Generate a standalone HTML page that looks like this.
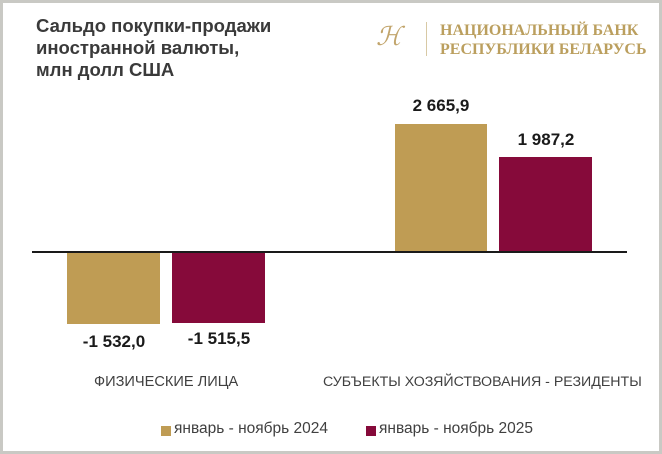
<!DOCTYPE html>
<html><head><meta charset="utf-8"><style>
body{margin:0;background:#fff;}
#c{position:relative;width:662px;height:454px;overflow:hidden;font-family:"Liberation Sans","DejaVu Sans",sans-serif;background:#fff;}
.frame{position:absolute;left:0;top:0;width:656px;height:448px;border:3px solid #c9c9c4;box-sizing:content-box;}
.t{position:absolute;white-space:nowrap;}
.b{position:absolute;}
.v{position:absolute;font-weight:bold;font-size:17px;color:#1a1a1a;text-align:center;width:120px;}
</style></head><body><div id="c">
<div class="frame"></div>
<div class="t" style="left:36px;top:15px;font-size:18.5px;font-weight:bold;color:#3a3a3a;line-height:22px;">Сальдо покупки-продажи<br>иностранной валюты,<br>млн долл США</div>
<div class="t" style="left:376px;top:22px;font-family:'Liberation Serif',serif;font-style:italic;font-size:26px;color:#c2a56c;">ℋ</div>
<div class="b" style="left:426px;top:22px;width:1px;height:34px;background:#d8c9a5;"></div>
<div class="t" style="left:440px;top:21px;font-family:'Liberation Serif',serif;font-weight:bold;font-size:16px;color:#bb9f5e;line-height:19px;">НАЦИОНАЛЬНЫЙ БАНК<br>РЕСПУБЛИКИ БЕЛАРУСЬ</div>
<div class="b" style="left:67px;top:252px;width:93px;height:72px;background:#bf9c54;"></div>
<div class="b" style="left:172px;top:252px;width:93px;height:71px;background:#860a3a;"></div>
<div class="b" style="left:395px;top:124px;width:92px;height:128px;background:#bf9c54;"></div>
<div class="b" style="left:499px;top:157px;width:93px;height:95px;background:#860a3a;"></div>
<div class="b" style="left:32px;top:251px;width:595px;height:2px;background:#1a1a1a;"></div>
<div class="v" style="left:54px;top:332px;">-1 532,0</div>
<div class="v" style="left:159px;top:329px;">-1 515,5</div>
<div class="v" style="left:381px;top:96px;">2 665,9</div>
<div class="v" style="left:486px;top:130px;">1 987,2</div>
<div class="t" style="left:94px;top:374px;font-size:14.6px;color:#404040;">ФИЗИЧЕСКИЕ ЛИЦА</div>
<div class="t" style="left:323px;top:374px;font-size:14.2px;color:#404040;">СУБЪЕКТЫ ХОЗЯЙСТВОВАНИЯ - РЕЗИДЕНТЫ</div>
<div class="b" style="left:161px;top:426px;width:10px;height:10px;background:#bf9c54;"></div>
<div class="t" style="left:174px;top:420px;font-size:15.5px;color:#404040;">январь - ноябрь 2024</div>
<div class="b" style="left:366px;top:426px;width:10px;height:10px;background:#860a3a;"></div>
<div class="t" style="left:379px;top:420px;font-size:15.5px;color:#404040;">январь - ноябрь 2025</div>
</div></body></html>
